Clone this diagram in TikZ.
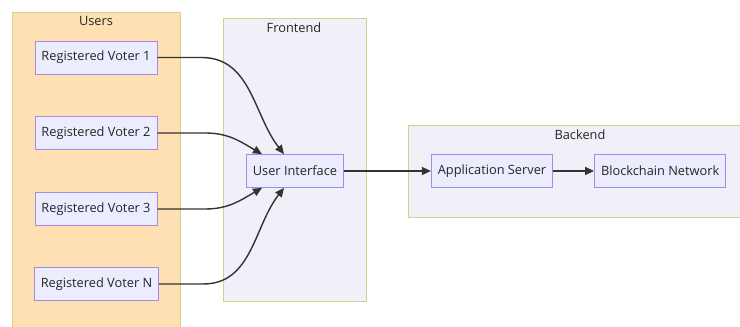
\documentclass[tikz,border=0pt]{standalone}
\usepackage{fontspec}
\setmainfont{Open Sans}
\usepackage{xcolor}
\usetikzlibrary{positioning, arrows, arrows.meta}

\definecolor{usersfill}{HTML}{FFE0B2}
\definecolor{groupfill}{HTML}{F0F1F8}
\definecolor{groupline}{HTML}{D2D28A}
\definecolor{boxfill}{HTML}{ECECFF}
\definecolor{boxline}{HTML}{A58BE6}
\definecolor{edgeline}{HTML}{333333}

\begin{document}
\begin{tikzpicture}[x=1pt,y=1pt,->,>={Triangle[length=9pt,width=8pt]},node distance=34pt,semithick]
        \tikzstyle{every node}=[font=\fontsize{12.8}{15}\selectfont,text=black!85]
        \tikzstyle{box}=[draw=boxline,fill=boxfill,line width=0.8pt,minimum height=33pt,inner xsep=6.5pt]
        \tikzstyle{group}=[draw=groupline,line width=0.8pt]
        \tikzstyle{flow}=[draw=edgeline,line width=1.4pt]

        \useasboundingbox (0,0) rectangle (740,327);

        % groups
        \fill[usersfill] (12,-5) rectangle (180,315);
        \draw[group,-] (12,-5) rectangle (180,315);
        \filldraw[group,-,fill=groupfill] (223,26) rectangle (366,309);
        \filldraw[group,-,fill=groupfill] (408,110) rectangle (750,202);
        \node (users)    at (96,306)  {Users};
        \node (frontend) at (294,299) {Frontend};
        \node (backend)  at (580,192) {Backend};

        % nodes
        \node[box] (V1) at (96,269.5) {Registered Voter 1};
        \node[box] (V2) at (96,194)   {Registered Voter 2};
        \node[box] (V3) at (96,118)   {Registered Voter 3};
        \node[box] (VN) at (96.5,43)  {Registered Voter N};
        \node[box] (UI) at (295,156)  {User Interface};
        \node[box] (AS) at (492,156)  {Application Server};
        \node[box] (BC) [right=41pt of AS] {Blockchain Network};

        % edges
        \draw[flow] (V1.east) -- ++(44,0) to[out=0,in=128] ([xshift=-11pt]UI.north);
        \draw[flow] (V2.east) -- ++(48,0) to[out=0,in=150] ([xshift=-33pt]UI.north);
        \draw[flow] (V3.east) -- ++(48,0) to[out=0,in=-150] ([xshift=-33pt]UI.south);
        \draw[flow] (VN.east) -- ++(44,0) to[out=0,in=-128] ([xshift=-11pt]UI.south);
        \draw[flow] (UI) -- (AS);
        \draw[flow] (AS) -- (BC);
\end{tikzpicture}
\end{document}
